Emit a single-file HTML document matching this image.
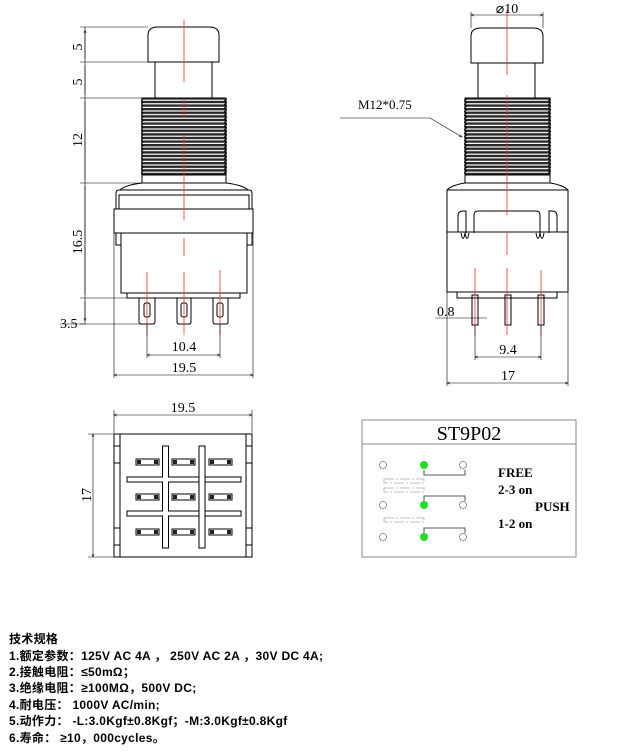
<!DOCTYPE html>
<html><head><meta charset="utf-8"><style>
body{margin:0;background:#fff}
svg{display:block}
.t{font-family:"Liberation Serif","Noto Serif CJK SC",serif;fill:#000}
.s{font-family:"Liberation Sans","Noto Sans CJK SC",sans-serif;font-weight:bold;font-size:12px;letter-spacing:0.3px;fill:#000}
</style></head><body>
<svg width="643" height="755" viewBox="0 0 643 755" xmlns="http://www.w3.org/2000/svg">
<defs>
<marker id="a" markerWidth="6" markerHeight="6" refX="5" refY="3" orient="auto-start-reverse"><path d="M0,1 L5,3 L0,5" fill="none" stroke="#000" stroke-width="0.8"/></marker>
<pattern id="th" width="10" height="3.6" patternUnits="userSpaceOnUse"><rect width="10" height="3.6" fill="#fff"/><rect y="0" width="10" height="2.4" fill="#2a2a2a"/></pattern>
<pattern id="zz" width="4" height="3.6" patternUnits="userSpaceOnUse"><path d="M0,0 L3,1.8 L0,3.6" fill="none" stroke="#000" stroke-width="0.8"/></pattern>
</defs>
<g fill="none" stroke="#000" stroke-width="1">
<!-- LEFT VIEW -->
<path d="M148,62 V35 Q148,27 158,27 H209 Q219,27 219,35 V62 Z"/>
<rect x="155" y="62" width="57" height="36"/>
<rect x="142" y="98" width="84" height="77" fill="url(#th)"/>
<rect x="141" y="99" width="3" height="75" fill="url(#zz)" stroke="none"/>
<rect x="224" y="99" width="3" height="75" fill="url(#zz)" stroke="none"/>
<rect x="142" y="175" width="84" height="8"/>
<path d="M142,183 Q125,185 120,190 M226,183 Q243,185 248,190"/>
<path d="M116,209 V193 Q116,190 119,190 H249 Q252,190 252,193 V209"/>
<path d="M119,209 V195 H249 V209"/>
<rect x="114" y="209" width="139" height="24"/>
<path d="M121,233 V293 H247 V233"/>
<path d="M116,233 V245 H121 M252,233 V245 H247"/>
<path d="M127,293 V298 H240 V293"/>
<path d="M139,298 V322 Q139,324 141,324 H153 Q155,324 155,322 V298"/>
<path d="M177,298 V322 Q177,324 179,324 H189 Q191,324 191,322 V298"/>
<path d="M213,298 V322 Q213,324 215,324 H226 Q228,324 228,322 V298"/>
<rect x="144" y="303" width="6" height="14" rx="2"/>
<rect x="181" y="303" width="6" height="14" rx="2"/>
<rect x="217" y="303" width="6" height="14" rx="2"/>
</g>
<g stroke="#e33" stroke-width="0.8">
<path d="M184,20 V82 M184,100 V118 M184,135 V220 M184,238 V256 M184,272 V335"/>
<path d="M147,272 V335 M220,270 V335"/>
</g>
<g stroke="#000" stroke-width="0.6" fill="none">
<path d="M80,27 H148 M80,62 H155 M80,98 H142 M80,183 H142 M80,298 H127 M80,324 H139"/>
<path d="M85,27 V324" />
<path d="M85,30 V59 M85,65 V95 M85,101 V180 M85,186 V295 M85,301 V321" marker-start="url(#a)" marker-end="url(#a)"/>
<path d="M60,324 H85"/>
<path d="M147,324 V358 M220,324 V358 M114,233 V378 M253,233 V378"/>
<path d="M147,355 H220" marker-start="url(#a)" marker-end="url(#a)"/>
<path d="M114,375 H253" marker-start="url(#a)" marker-end="url(#a)"/>
</g>
<g class="t" font-size="14">
<text transform="translate(82,47) rotate(-90)" text-anchor="middle">5</text>
<text transform="translate(82,82) rotate(-90)" text-anchor="middle">5</text>
<text transform="translate(82,140) rotate(-90)" text-anchor="middle">12</text>
<text transform="translate(82,242) rotate(-90)" text-anchor="middle">16.5</text>
<text x="60" y="328">3.5</text>
<text x="184" y="351" text-anchor="middle">10.4</text>
<text x="184" y="372" text-anchor="middle">19.5</text>
</g>

<!-- RIGHT VIEW -->
<g fill="none" stroke="#000" stroke-width="1">
<path d="M471,63 V36 Q471,28 481,28 H533 Q543,28 543,36 V63 Z"/>
<rect x="478" y="63" width="57" height="35"/>
<rect x="465" y="98" width="85" height="77" fill="url(#th)"/>
<rect x="464" y="99" width="3" height="75" fill="url(#zz)" stroke="none"/>
<rect x="548" y="99" width="3" height="75" fill="url(#zz)" stroke="none"/>
<rect x="465" y="175" width="85" height="8"/>
<path d="M465,183 Q452,185 447,190 M550,183 Q563,185 568,190"/>
<rect x="447" y="190" width="121" height="102"/>
<path d="M447,232 H568"/>
<path d="M458,232 V216 Q458,211 463,211 H466 V233 M461,233 q2,11 4,0 q2,11 4,0"/>
<path d="M474,233 V215 Q474,211 478,211 H536 Q540,211 540,215 V233 M536,233 q2,11 4,0 q2,11 4,0"/>
<path d="M557,232 V216 Q557,211 552,211 H549 V233"/>
<path d="M457,292 V298 H557 V292"/>
<rect x="472" y="295" width="6" height="30"/>
<rect x="505" y="295" width="6" height="30"/>
<rect x="538" y="295" width="6" height="30"/>
</g>
<g stroke="#e33" stroke-width="0.8">
<path d="M507,10 V75 M507,95 V215 M507,232 V255 M507,268 V335 M475,268 V335 M541,270 V335"/>
</g>
<g stroke="#000" stroke-width="0.6" fill="none">
<path d="M471,28 V12 M543,28 V12"/>
<path d="M471,15 H543" marker-start="url(#a)" marker-end="url(#a)"/>
<path d="M340,118 H430 L462,137" marker-end="url(#a)"/>
<path d="M435,318 H487"/>
<path d="M475,325 V360 M541,325 V360 M447,292 V386 M568,292 V386"/>
<path d="M475,357 H541" marker-start="url(#a)" marker-end="url(#a)"/>
<path d="M447,383 H568" marker-start="url(#a)" marker-end="url(#a)"/>
</g>
<g class="t" font-size="14">
<text x="507" y="13" text-anchor="middle">⌀10</text>
<text x="358" y="109" font-size="13">M12*0.75</text>
<text x="437" y="316">0.8</text>
<text x="508" y="354" text-anchor="middle">9.4</text>
<text x="508" y="380" text-anchor="middle">17</text>
</g>

<!-- BOTTOM VIEW -->
<g stroke="#000" stroke-width="0.6" fill="none">
<path d="M114,433 V410 M252,433 V410"/>
<path d="M114,415 H252" marker-start="url(#a)" marker-end="url(#a)"/>
<path d="M114,434 H88 M114,557 H88"/>
<path d="M93,434 V557" marker-start="url(#a)" marker-end="url(#a)"/>
</g>
<g fill="none" stroke="#000" stroke-width="1">
<rect x="114" y="434" width="138" height="123"/>
<path d="M120,434 V557 M246,434 V557"/>
<path d="M114,446 H120 M114,463 H120 M114,528 H120 M114,545 H120 M246,446 H252 M246,463 H252 M246,528 H252 M246,545 H252"/>
<path d="M162.5,446 H168.5 V477 H241 V482 H168.5 V511 H241 V516 H168.5 V548 H162.5 V516 H127 V511 H162.5 V482 H127 V477 H162.5 Z"/>
<path d="M199,446 H205 V548 H199 Z" fill="#fff"/>
<path d="M168.5,477 H199 M205,477 H241 M168.5,482 H199 M168.5,511 H199 M168.5,516 H199"/>
</g>
<g fill="#fff" stroke="#000" stroke-width="1">
<rect x="136" y="459" width="23" height="6"/><rect x="172" y="459" width="23" height="6"/><rect x="209" y="459" width="23" height="6"/>
<rect x="136" y="494" width="23" height="6"/><rect x="172" y="494" width="23" height="6"/><rect x="209" y="494" width="23" height="6"/>
<rect x="136" y="529" width="23" height="6"/><rect x="172" y="529" width="23" height="6"/><rect x="209" y="529" width="23" height="6"/>
</g>
<g fill="#222">
<rect x="137" y="460" width="4" height="4"/><rect x="154" y="460" width="4" height="4"/><rect x="173" y="460" width="4" height="4"/><rect x="190" y="460" width="4" height="4"/><rect x="210" y="460" width="4" height="4"/><rect x="227" y="460" width="4" height="4"/>
<rect x="137" y="495" width="4" height="4"/><rect x="154" y="495" width="4" height="4"/><rect x="173" y="495" width="4" height="4"/><rect x="190" y="495" width="4" height="4"/><rect x="210" y="495" width="4" height="4"/><rect x="227" y="495" width="4" height="4"/>
<rect x="137" y="530" width="4" height="4"/><rect x="154" y="530" width="4" height="4"/><rect x="173" y="530" width="4" height="4"/><rect x="190" y="530" width="4" height="4"/><rect x="210" y="530" width="4" height="4"/><rect x="227" y="530" width="4" height="4"/>
</g>
<g class="t" font-size="14">
<text x="183" y="412" text-anchor="middle">19.5</text>
<text transform="translate(91,495) rotate(-90)" text-anchor="middle">17</text>
</g>

<!-- TABLE -->
<g fill="none" stroke="#888" stroke-width="1">
<rect x="362" y="420" width="214" height="137"/>
<path d="M362,444 H576"/>
<path d="M424,470 V475 H465 V470 M424,501 V496 H465 V501 M424,533 V528 H465 V533" stroke="#555"/>
</g>
<g fill="none" stroke="#aaa" stroke-width="0.8" stroke-dasharray="10,2,2,2">
<rect x="384" y="479" width="40" height="4"/><rect x="384" y="488" width="40" height="4"/><rect x="384" y="518" width="40" height="4"/>
</g>
<g stroke="#777" stroke-width="0.8" fill="#fff">
<circle cx="383" cy="465" r="3.5"/><circle cx="463" cy="465" r="3.5"/>
<circle cx="383" cy="505" r="3.5"/><circle cx="463" cy="505" r="3.5"/>
<circle cx="383" cy="537" r="3.5"/><circle cx="463" cy="537" r="3.5"/>
</g>
<g fill="#22dd22"><circle cx="424" cy="465" r="4"/><circle cx="424" cy="505" r="4"/><circle cx="424" cy="537" r="4"/></g>
<g class="t">
<text x="469" y="440" font-size="20" text-anchor="middle">ST9P02</text>
<text x="498" y="477" font-size="13" font-weight="bold">FREE</text>
<text x="498" y="494" font-size="13" font-weight="bold">2-3 on</text>
<text x="535" y="511" font-size="13" font-weight="bold">PUSH</text>
<text x="498" y="528" font-size="13" font-weight="bold">1-2 on</text>
</g>

<!-- SPECS -->
<text class="s" x="9" y="643">技术规格</text>
<text class="s" x="9" y="660">1.额定参数：125V AC 4A ，  250V AC 2A ，30V DC 4A;</text>
<text class="s" x="9" y="676">2.接触电阻：≤50mΩ；</text>
<text class="s" x="9" y="692">3.绝缘电阻：≥100MΩ，500V DC;</text>
<text class="s" x="9" y="709">4.耐电压：   1000V AC/min;</text>
<text class="s" x="9" y="725">5.动作力：   -L:3.0Kgf±0.8Kgf；-M:3.0Kgf±0.8Kgf</text>
<text class="s" x="9" y="742">6.寿命：     ≥10，000cycles。</text>
</svg>
</body></html>
